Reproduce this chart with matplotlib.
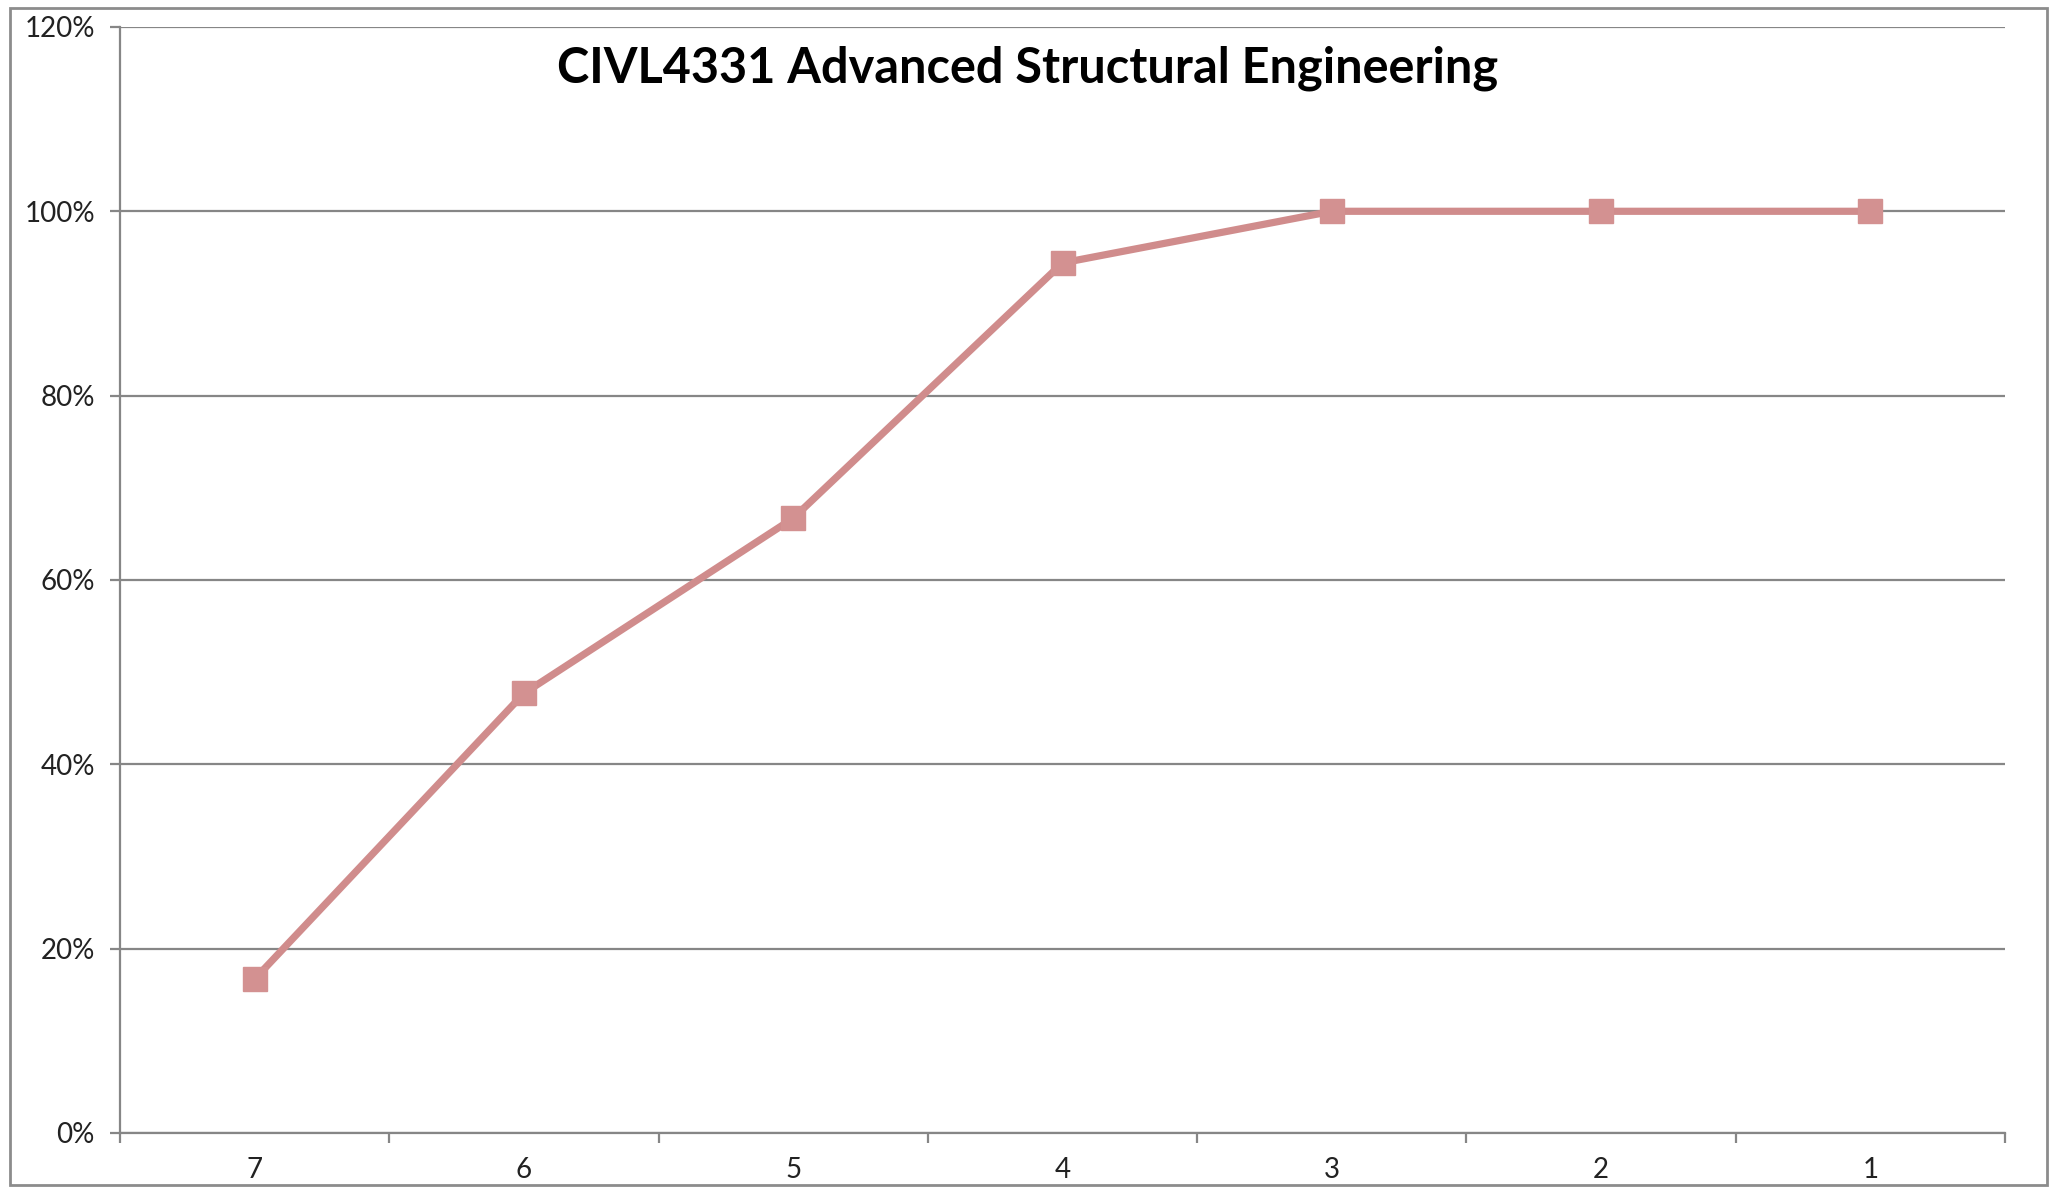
import matplotlib
matplotlib.use("Agg")
import matplotlib.pyplot as plt
from matplotlib.patches import Rectangle
from matplotlib.ticker import PercentFormatter, FixedLocator

# Data
categories = ["7", "6", "5", "4", "3", "2", "1"]
values = [0.167, 0.477, 0.667, 0.944, 1.0, 1.0, 1.0]
yticks = [0, 0.2, 0.4, 0.6, 0.8, 1.0, 1.2]

plt.rcParams['font.family'] = ['Lato', 'DejaVu Sans']

fig = plt.figure(figsize=(20.51, 11.87), dpi=100)
ax = fig.add_axes([0.0585, 0.0455, 0.9191, 0.9318])

grid_col = '#868686'
line_col = '#D08C8C'

x = list(range(len(categories)))
ax.plot(x, values, color=line_col, lw=5.2, marker='s', ms=17,
        mfc='#D39191', mec='#D39191', zorder=3)

ax.set_xlim(-0.5, len(categories) - 0.5)
ax.set_ylim(0, 1.2)
ax.set_yticks(yticks)
ax.yaxis.set_major_formatter(PercentFormatter(1.0, decimals=0))
ax.set_xticks(x)
ax.set_xticklabels(categories)
ax.xaxis.set_minor_locator(FixedLocator([i - 0.5 for i in range(len(categories) + 1)]))

ax.grid(axis='y', color=grid_col, lw=1.6)
ax.set_axisbelow(True)
for s in ['top', 'right']:
    ax.spines[s].set_visible(False)
for s in ['left', 'bottom']:
    ax.spines[s].set_color(grid_col)
    ax.spines[s].set_linewidth(1.6)

ax.tick_params(axis='y', length=7, width=1.6, color=grid_col, pad=11,
               labelsize=20, labelcolor='#222222')
ax.tick_params(axis='x', which='major', length=0, pad=17,
               labelsize=20, labelcolor='#222222')
ax.tick_params(axis='x', which='minor', length=7, width=1.6, color=grid_col)

fig.text(0.501, 1 - 68 / 1187, "CIVL4331 Advanced Structural Engineering",
         ha='center', va='center', fontsize=35, fontweight='bold', color='black')

# outer chart border
fig.patches.append(Rectangle((10 / 2051, 2 / 1187), 2037 / 2051, 1177 / 1187,
                             transform=fig.transFigure, fill=False,
                             edgecolor='#8c8c8c', lw=2))

fig.savefig('out.png', dpi=100)
